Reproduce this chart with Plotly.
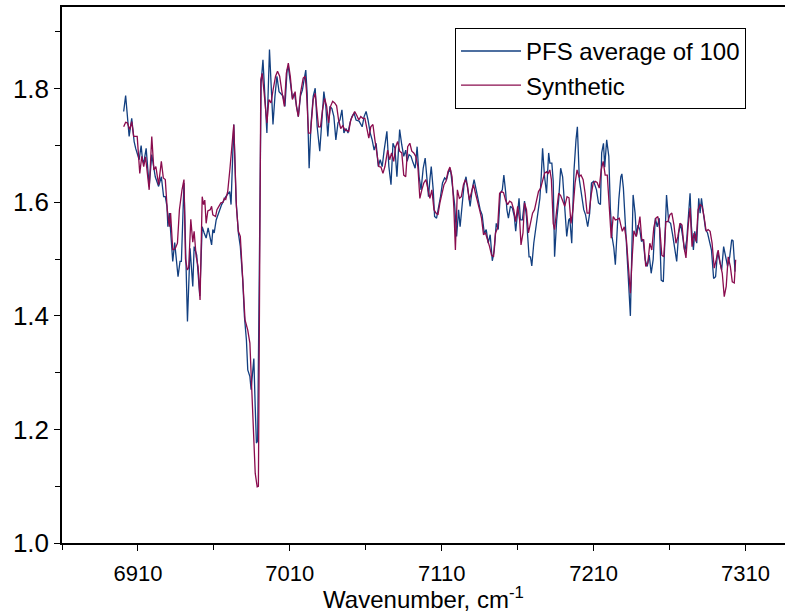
import plotly.graph_objects as go

# PFS averaged spectrum (average of 100 spectra)
pfs_wn = [
    6900.6, 6901.9, 6904.2, 6905.9, 6907.5, 6908.5, 6910.8, 6912.1, 6913.0, 6913.8,
    6915.4, 6917.4, 6919.1, 6921.4, 6923.6, 6925.4, 6926.9, 6928.0, 6929.1, 6929.7,
    6930.7, 6932.9, 6934.2, 6936.4, 6937.7, 6938.6, 6940.3, 6942.6, 6944.3, 6946.1,
    6947.0, 6948.7, 6950.7, 6952.3, 6953.6, 6954.9, 6956.2, 6958.5, 6959.3, 6960.2,
    6961.5, 6963.8, 6965.1, 6967.8, 6970.4, 6971.3, 6972.4, 6973.1, 6974.6, 6976.1,
    6977.4, 6979.0, 6980.1, 6981.4, 6982.3, 6983.7, 6984.5, 6985.4, 6986.3, 6987.2,
    6988.0, 6988.8, 6991.1, 6992.3, 6993.6, 6994.9, 6996.6, 6998.0, 6998.9, 7000.2,
    7001.5, 7002.9, 7005.5, 7006.8, 7008.2, 7009.0, 7010.3, 7011.7, 7013.0, 7015.6,
    7017.0, 7018.3, 7019.6, 7020.5, 7021.4, 7022.7, 7024.0, 7025.4, 7026.7, 7028.0,
    7029.7, 7031.1, 7032.4, 7033.7, 7035.0, 7036.4, 7037.7, 7039.0, 7040.3, 7041.7,
    7043.0, 7044.3, 7045.6, 7047.0, 7048.3, 7049.6, 7050.9, 7052.3, 7053.6, 7055.6,
    7057.6, 7058.9, 7060.2, 7061.5, 7062.9, 7064.2, 7065.5, 7066.8, 7068.2, 7069.5,
    7070.8, 7072.1, 7073.9, 7075.2, 7076.6, 7077.9, 7079.2, 7080.5, 7082.3, 7083.7,
    7085.0, 7086.3, 7087.2, 7088.5, 7089.8, 7091.1, 7092.5, 7093.8, 7095.1, 7096.4,
    7097.8, 7099.1, 7100.2, 7101.3, 7102.2, 7103.1, 7104.4, 7105.3, 7106.6, 7107.9,
    7109.2, 7110.5, 7111.9, 7113.2, 7114.5, 7115.8, 7117.2, 7118.5, 7119.8, 7121.1,
    7122.1, 7123.4, 7124.7, 7126.0, 7127.4, 7128.7, 7130.0, 7131.3, 7132.7, 7134.0,
    7135.3, 7136.6, 7138.0, 7139.3, 7140.6, 7141.9, 7143.3, 7144.6, 7145.9, 7147.2,
    7148.6, 7149.9, 7150.9, 7152.1, 7152.9, 7153.9, 7155.2, 7156.5, 7157.8, 7158.7,
    7160.0, 7160.9, 7161.8, 7163.1, 7164.5, 7165.8, 7166.6, 7167.5, 7168.4, 7169.3,
    7170.6, 7171.9, 7173.3, 7174.6, 7175.5, 7176.4, 7177.7, 7179.0, 7180.4, 7181.2,
    7182.5, 7183.4, 7184.3, 7185.7, 7187.0, 7188.3, 7189.6, 7191.0, 7192.3, 7193.6,
    7194.3, 7195.6, 7197.1, 7198.4, 7199.3, 7200.6, 7201.9, 7203.5, 7204.7, 7206.1,
    7207.4, 7208.6, 7210.0, 7211.9, 7213.2, 7214.5, 7215.3, 7216.5, 7217.3, 7218.6,
    7220.0, 7221.0, 7222.1, 7223.3, 7224.3, 7225.6, 7226.6, 7227.9, 7228.6, 7229.6,
    7230.9, 7232.2, 7233.2, 7234.2, 7236.0, 7237.3, 7238.2, 7239.2, 7240.4, 7241.5,
    7242.6, 7243.9, 7245.3, 7246.6, 7247.9, 7249.2, 7250.6, 7251.9, 7253.2, 7254.5,
    7255.9, 7257.2, 7258.0, 7259.4, 7260.7, 7262.0, 7263.3, 7264.7, 7266.0, 7267.3,
    7268.6, 7270.0, 7271.3, 7272.6, 7273.5, 7274.4, 7275.7, 7276.6, 7277.9, 7279.2,
    7280.1, 7281.0, 7282.3, 7283.7, 7285.0, 7286.3, 7287.6, 7289.0, 7290.3, 7291.6,
    7292.9, 7294.3, 7295.6, 7296.9, 7298.2, 7299.6, 7300.9, 7301.8, 7303.1,
]
pfs_val = [
    1.760, 1.788, 1.716, 1.748, 1.707, 1.695, 1.675, 1.700, 1.675, 1.669,
    1.695, 1.628, 1.684, 1.645, 1.628, 1.645, 1.610, 1.610, 1.593, 1.557,
    1.581, 1.496, 1.529, 1.469, 1.496, 1.496, 1.634, 1.390, 1.519, 1.452,
    1.522, 1.507, 1.435, 1.557, 1.546, 1.537, 1.555, 1.525, 1.552, 1.546,
    1.569, 1.587, 1.596, 1.610, 1.619, 1.596, 1.710, 1.737, 1.604, 1.546,
    1.522, 1.463, 1.399, 1.358, 1.305, 1.293, 1.270, 1.300, 1.325, 1.240,
    1.176, 1.180, 1.810, 1.851, 1.781, 1.722, 1.869, 1.798, 1.737, 1.787,
    1.822, 1.795, 1.787, 1.769, 1.833, 1.839, 1.810, 1.783, 1.792, 1.751,
    1.787, 1.798, 1.819, 1.833, 1.792, 1.660, 1.740, 1.787, 1.801, 1.733,
    1.690, 1.745, 1.795, 1.769, 1.716, 1.769, 1.765, 1.751, 1.710, 1.740,
    1.745, 1.763, 1.722, 1.730, 1.722, 1.740, 1.751, 1.757, 1.745, 1.743,
    1.733, 1.751, 1.760, 1.745, 1.722, 1.710, 1.692, 1.704, 1.663, 1.675,
    1.663, 1.692, 1.725, 1.663, 1.631, 1.704, 1.695, 1.645, 1.728, 1.701,
    1.681, 1.692, 1.672, 1.684, 1.681, 1.670, 1.660, 1.698, 1.645, 1.622,
    1.660, 1.678, 1.645, 1.610, 1.640, 1.663, 1.622, 1.575, 1.572, 1.590,
    1.610, 1.634, 1.643, 1.640, 1.654, 1.657, 1.630, 1.596, 1.540, 1.587,
    1.557, 1.599, 1.631, 1.645, 1.620, 1.593, 1.622, 1.640, 1.622, 1.604,
    1.587, 1.578, 1.546, 1.552, 1.528, 1.543, 1.497, 1.516, 1.563, 1.552,
    1.616, 1.622, 1.648, 1.618, 1.587, 1.572, 1.593, 1.590, 1.575, 1.549,
    1.587, 1.607, 1.569, 1.569, 1.602, 1.575, 1.540, 1.504, 1.504, 1.488,
    1.528, 1.557, 1.581, 1.607, 1.645, 1.695, 1.645, 1.616, 1.687, 1.669,
    1.669, 1.637, 1.504, 1.569, 1.604, 1.660, 1.645, 1.581, 1.540, 1.569,
    1.572, 1.528, 1.657, 1.710, 1.733, 1.640, 1.616, 1.587, 1.578, 1.557,
    1.581, 1.634, 1.637, 1.622, 1.599, 1.596, 1.687, 1.704, 1.662, 1.710,
    1.681, 1.590, 1.540, 1.520, 1.490, 1.560, 1.605, 1.645, 1.650, 1.625,
    1.560, 1.495, 1.455, 1.400, 1.613, 1.581, 1.540, 1.560, 1.552, 1.531,
    1.535, 1.499, 1.487, 1.507, 1.475, 1.499, 1.572, 1.557, 1.572, 1.463,
    1.460, 1.569, 1.613, 1.566, 1.563, 1.543, 1.516, 1.496, 1.546, 1.563,
    1.540, 1.513, 1.534, 1.590, 1.616, 1.557, 1.516, 1.549, 1.528, 1.607,
    1.581, 1.607, 1.581, 1.552, 1.546, 1.528, 1.516, 1.466, 1.469, 1.513,
    1.499, 1.481, 1.522, 1.504, 1.487, 1.504, 1.534, 1.532, 1.478,
]

# Synthetic spectrum
syn_wn = [
    6900.6, 6901.9, 6903.0, 6904.6, 6905.9, 6907.2, 6909.5, 6910.3, 6911.2, 6912.5,
    6913.8, 6915.0, 6916.1, 6917.4, 6919.1, 6920.5, 6921.8, 6923.6, 6925.4, 6926.7,
    6928.0, 6929.3, 6930.7, 6931.5, 6932.9, 6934.6, 6936.0, 6937.3, 6939.0, 6940.3,
    6941.3, 6942.5, 6943.4, 6944.8, 6946.1, 6947.0, 6948.3, 6949.6, 6950.9, 6952.3,
    6953.2, 6954.0, 6954.9, 6956.0, 6957.6, 6958.5, 6959.3, 6961.1, 6962.0, 6963.3,
    6964.6, 6966.0, 6966.8, 6967.8, 6969.1, 6970.6, 6971.9, 6973.1, 6974.8, 6976.1,
    6977.4, 6978.8, 6980.5, 6982.3, 6983.7, 6984.5, 6985.8, 6987.2, 6988.5, 6989.3,
    6990.9, 6991.8, 6993.1, 6994.9, 6996.2, 6997.6, 6999.1, 7000.6, 7001.9, 7003.3,
    7004.6, 7006.4, 7007.7, 7009.0, 7010.3, 7011.7, 7013.5, 7014.3, 7015.6, 7017.0,
    7018.8, 7020.1, 7020.9, 7022.3, 7023.6, 7025.4, 7026.7, 7027.9, 7028.9, 7030.2,
    7031.5, 7032.9, 7034.2, 7035.5, 7036.8, 7038.2, 7039.5, 7040.8, 7042.1, 7043.5,
    7044.8, 7046.1, 7047.4, 7048.8, 7050.1, 7051.4, 7052.7, 7054.1, 7055.4, 7056.7,
    7058.0, 7059.4, 7060.7, 7062.0, 7063.3, 7064.7, 7066.0, 7067.3, 7068.6, 7070.0,
    7071.3, 7072.6, 7074.4, 7075.7, 7077.0, 7078.4, 7079.7, 7081.0, 7082.3, 7083.7,
    7085.0, 7086.3, 7087.6, 7089.0, 7090.3, 7091.6, 7092.9, 7094.3, 7095.6, 7096.9,
    7098.2, 7099.6, 7100.9, 7102.2, 7103.5, 7104.9, 7106.2, 7107.5, 7108.8, 7110.1,
    7111.5, 7112.8, 7114.1, 7115.4, 7116.8, 7118.0, 7119.0, 7120.3, 7121.6, 7122.9,
    7124.3, 7125.6, 7126.9, 7128.2, 7129.6, 7130.9, 7132.2, 7133.5, 7134.9, 7136.2,
    7137.5, 7138.8, 7140.2, 7141.5, 7142.8, 7144.1, 7145.4, 7146.8, 7148.1, 7149.4,
    7150.7, 7152.1, 7153.4, 7154.7, 7156.0, 7157.4, 7158.7, 7160.0, 7161.3, 7162.2,
    7163.5, 7164.5, 7165.8, 7167.1, 7168.4, 7169.8, 7171.1, 7172.4, 7173.7, 7175.1,
    7176.4, 7177.7, 7179.0, 7179.9, 7181.2, 7182.2, 7183.4, 7184.3, 7185.7, 7187.0,
    7188.3, 7189.6, 7191.0, 7192.5, 7193.8, 7195.1, 7196.4, 7197.8, 7199.1, 7200.4,
    7201.7, 7203.1, 7204.4, 7205.7, 7207.0, 7208.4, 7209.7, 7211.0, 7212.3, 7213.7,
    7215.0, 7216.3, 7217.6, 7219.0, 7220.3, 7221.6, 7222.9, 7224.3, 7225.6, 7226.9,
    7227.9, 7228.9, 7230.2, 7231.6, 7232.9, 7234.2, 7235.3, 7236.5, 7238.0, 7239.3,
    7240.5, 7241.7, 7243.0, 7244.3, 7245.7, 7247.0, 7248.3, 7249.6, 7251.0, 7252.3,
    7253.6, 7254.9, 7256.2, 7257.6, 7258.9, 7260.2, 7261.5, 7262.9, 7264.2, 7265.5,
    7266.8, 7268.2, 7269.5, 7270.8, 7272.2, 7273.5, 7274.8, 7276.1, 7277.5, 7278.8,
    7280.1, 7281.4, 7282.7, 7284.1, 7285.4, 7286.7, 7288.0, 7289.4, 7290.7, 7292.0,
    7293.3, 7294.7, 7296.0, 7297.3, 7298.6, 7300.0, 7301.3, 7302.6, 7303.5,
]
syn_val = [
    1.733, 1.741, 1.740, 1.728, 1.742, 1.716, 1.716, 1.678, 1.651, 1.681,
    1.663, 1.680, 1.657, 1.622, 1.716, 1.657, 1.663, 1.631, 1.672, 1.643,
    1.640, 1.587, 1.557, 1.581, 1.516, 1.519, 1.528, 1.587, 1.622, 1.640,
    1.500, 1.481, 1.485, 1.570, 1.530, 1.549, 1.505, 1.487, 1.428, 1.610,
    1.596, 1.604, 1.563, 1.585, 1.587, 1.593, 1.578, 1.575, 1.587, 1.593,
    1.599, 1.600, 1.607, 1.605, 1.619, 1.660, 1.700, 1.737, 1.593, 1.549,
    1.540, 1.475, 1.393, 1.375, 1.352, 1.299, 1.217, 1.123, 1.099, 1.100,
    1.816, 1.827, 1.792, 1.740, 1.781, 1.775, 1.800, 1.822, 1.831, 1.822,
    1.798, 1.769, 1.827, 1.845, 1.822, 1.781, 1.795, 1.769, 1.751, 1.792,
    1.819, 1.822, 1.798, 1.722, 1.722, 1.781, 1.792, 1.765, 1.733, 1.733,
    1.763, 1.783, 1.770, 1.740, 1.769, 1.778, 1.775, 1.770, 1.745, 1.730,
    1.735, 1.728, 1.727, 1.725, 1.745, 1.754, 1.760, 1.753, 1.745, 1.751,
    1.748, 1.748, 1.733, 1.713, 1.733, 1.737, 1.710, 1.681, 1.663, 1.662,
    1.651, 1.663, 1.692, 1.675, 1.687, 1.672, 1.698, 1.707, 1.690, 1.687,
    1.648, 1.645, 1.698, 1.704, 1.690, 1.687, 1.681, 1.663, 1.607, 1.622,
    1.634, 1.640, 1.622, 1.607, 1.622, 1.587, 1.581, 1.578, 1.599, 1.616,
    1.631, 1.637, 1.654, 1.662, 1.645, 1.590, 1.516, 1.622, 1.607, 1.610,
    1.631, 1.640, 1.630, 1.604, 1.616, 1.631, 1.616, 1.604, 1.587, 1.572,
    1.543, 1.546, 1.534, 1.522, 1.507, 1.504, 1.546, 1.555, 1.616, 1.619,
    1.617, 1.603, 1.596, 1.602, 1.600, 1.587, 1.566, 1.593, 1.569, 1.525,
    1.546, 1.599, 1.587, 1.546, 1.563, 1.581, 1.587, 1.604, 1.619, 1.625,
    1.637, 1.651, 1.654, 1.650, 1.657, 1.640, 1.563, 1.552, 1.587, 1.616,
    1.612, 1.604, 1.593, 1.610, 1.608, 1.563, 1.587, 1.634, 1.657, 1.645,
    1.648, 1.640, 1.616, 1.581, 1.581, 1.613, 1.634, 1.637, 1.635, 1.625,
    1.657, 1.672, 1.648, 1.648, 1.587, 1.537, 1.575, 1.569, 1.570, 1.572,
    1.560, 1.549, 1.557, 1.534, 1.487, 1.440, 1.499, 1.550, 1.540, 1.555,
    1.575, 1.534, 1.534, 1.487, 1.493, 1.528, 1.516, 1.555, 1.572, 1.575,
    1.552, 1.507, 1.504, 1.566, 1.566, 1.578, 1.581, 1.560, 1.528, 1.540,
    1.563, 1.560, 1.522, 1.502, 1.557, 1.590, 1.522, 1.546, 1.531, 1.587,
    1.596, 1.593, 1.575, 1.549, 1.552, 1.549, 1.528, 1.484, 1.499, 1.516,
    1.493, 1.475, 1.434, 1.452, 1.504, 1.487, 1.460, 1.458, 1.499,
]

x_tick_vals = [6910, 7010, 7110, 7210, 7310]
y_tick_vals = [1.0, 1.2, 1.4, 1.6, 1.8]

FONT = "Liberation Sans, Arial, sans-serif"

fig = go.Figure()
fig.add_trace(go.Scatter(
    x=pfs_wn, y=pfs_val, mode="lines", name="PFS average of 100",
    line=dict(color="#123f80", width=1.3),
))
fig.add_trace(go.Scatter(
    x=syn_wn, y=syn_val, mode="lines", name="Synthetic",
    line=dict(color="#8a0c4e", width=1.3),
))

fig.update_layout(
    width=785, height=613,
    margin=dict(l=62, r=0, t=7, b=70),
    paper_bgcolor="white", plot_bgcolor="white",
    font=dict(family=FONT, size=24, color="black"),
    showlegend=True,
    legend=dict(
        x=0.5436, y=0.961, xanchor="left", yanchor="top",
        bgcolor="white", bordercolor="black", borderwidth=1,
        font=dict(family=FONT, size=24, color="black"),
        tracegroupgap=0, itemwidth=60,
    ),
)

fig.update_xaxes(
    range=[6860, 7336],
    tickvals=x_tick_vals,
    ticks="outside", ticklen=6, tickwidth=1, tickcolor="black",
    minor=dict(ticks="outside", ticklen=5, tickcolor="black", tick0=6860, dtick=50),
    showline=True, linecolor="black", linewidth=2, mirror=True,
    showgrid=False, zeroline=False,
    tickfont=dict(family=FONT, size=22),
    ticklabelstandoff=4,
    title=dict(text="Wavenumber, cm<sup>-1</sup>", font=dict(family=FONT, size=24), standoff=1),
)
fig.update_yaxes(
    range=[1.0, 1.944],
    tickvals=y_tick_vals, tickformat=".1f",
    ticks="outside", ticklen=6, tickwidth=1, tickcolor="black",
    minor=dict(ticks="outside", ticklen=5, tickcolor="black", tick0=1.0, dtick=0.1),
    showline=True, linecolor="black", linewidth=1.5,
    showgrid=False, zeroline=False,
    tickfont=dict(family=FONT, size=26),
)

fig.write_html("out.html")
